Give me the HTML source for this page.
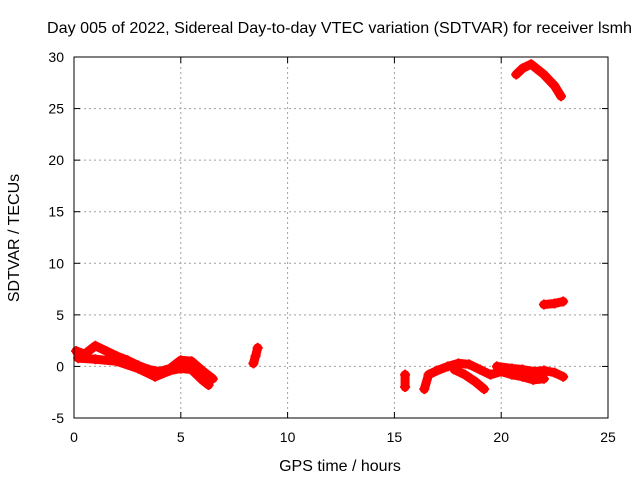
<!DOCTYPE html>
<html><head><meta charset="utf-8"><style>
body{margin:0;background:#fff;}
svg text{font-family:"Liberation Sans",sans-serif;font-size:14px;fill:#000;}
svg text.big{font-size:16px;}
</style></head><body>
<svg id="chart" width="640" height="480">
<rect width="640" height="480" fill="#fff"/>
<text class="big" x="47" y="33" textLength="585" lengthAdjust="spacingAndGlyphs">Day 005 of 2022, Sidereal Day-to-day VTEC variation (SDTVAR) for receiver lsmh</text>
<text class="big" x="340" y="471" text-anchor="middle">GPS time / hours</text>
<text class="big" transform="translate(19,238) rotate(-90)" text-anchor="middle">SDTVAR / TECUs</text>
<g id="grid"></g><g id="marks"></g><g id="axes"></g>
</svg>
<script>
const xTicks=[0,5,10,15,20,25];
const yTicks=[-5,0,5,10,15,20,25,30];
const seriesA=[[0.1,1.5],[0.5,1.2],[1,2.0],[1.5,1.5],[2,1.0],[2.5,0.6],[3,0.1],[3.5,-0.3],[4,-0.5],[4.5,-0.2],[5,0.6],[5.5,0.5],[6,-0.4],[6.5,-1.2]];
const seriesB=[[0.2,0.8],[1,0.7],[2,0.5],[3,-0.2],[3.8,-1.0],[4.5,-0.4],[5,-0.2],[5.5,-0.3],[6,-1.3],[6.3,-1.8]];
const seriesC=[[8.4,0.3],[8.5,1.0],[8.6,1.8]];
const seriesD=[[15.5,-2.0],[15.5,-0.8]];
const seriesE=[[16.4,-2.2],[16.6,-0.8],[17,-0.4],[17.5,0],[18,0.3],[18.5,0.2],[19,-0.3],[19.5,-0.8],[20,-0.5],[20.5,-0.8],[21,-1.0],[21.5,-1.3],[22,-1.2]];
const seriesF=[[17.8,-0.3],[18.3,-0.8],[18.8,-1.5],[19.2,-2.2]];
const seriesG=[[19.8,0],[20.5,-0.2],[21,-0.3],[21.5,-0.5],[22,-0.4],[22.5,-0.6],[22.9,-1.0]];
const seriesH=[[20.7,28.3],[21,28.9],[21.4,29.3],[22,28.3],[22.5,27.2],[22.8,26.2]];
const seriesI=[[22,6.0],[22.5,6.1],[22.9,6.3]];
const allSeries=[seriesA,seriesB,seriesC,seriesD,seriesE,seriesF,seriesG,seriesH,seriesI];
const L=74,R=608,T=57,B=418,xmin=0,xmax=25,ymin=-5,ymax=30;
const sx=v=>L+(v-xmin)/(xmax-xmin)*(R-L);
const sy=v=>B-(v-ymin)/(ymax-ymin)*(B-T);
const NS='http://www.w3.org/2000/svg';
function mk(tag,attrs,parent){const e=document.createElementNS(NS,tag);for(const k in attrs)e.setAttribute(k,attrs[k]);document.getElementById(parent).appendChild(e);return e;}
xTicks.forEach(t=>{
  if(t>xmin&&t<xmax){const g=mk('line',{x1:sx(t),x2:sx(t),y1:T,y2:B,stroke:'#a0a0a0','stroke-dasharray':'2,3'},'grid');
  
  }
  const tk=mk('text',{x:sx(t),y:B+24,'text-anchor':'middle'},'axes');tk.textContent=t;
  
  
  mk('line',{x1:sx(t),x2:sx(t),y1:B,y2:B-6,stroke:'#000'},'axes');
  mk('line',{x1:sx(t),x2:sx(t),y1:T,y2:T+6,stroke:'#000'},'axes');
});
yTicks.forEach(t=>{
  if(t>ymin&&t<ymax){const g=mk('line',{x1:L,x2:R,y1:sy(t),y2:sy(t),stroke:'#a0a0a0','stroke-dasharray':'2,3'},'grid');
  
  }
  const tk=mk('text',{x:L-10,y:sy(t)+5,'text-anchor':'end'},'axes');tk.textContent=t;
  
  
  mk('line',{x1:L,x2:L+6,y1:sy(t),y2:sy(t),stroke:'#000'},'axes');
  mk('line',{x1:R,x2:R-6,y1:sy(t),y2:sy(t),stroke:'#000'},'axes');
});
const fr=mk('rect',{x:L,y:T,width:R-L,height:B-T,fill:'none',stroke:'#000'},'axes');


allSeries.forEach((s,i)=>{
  const pts=s.map(p=>sx(p[0])+','+sy(p[1])).join(' ');
  const pl=mk('polyline',{points:pts,fill:'none',stroke:'#ff0000','stroke-width':9,'stroke-linejoin':'round','stroke-linecap':'round'},'marks');
  
  
  s.forEach(p=>{
    const m=mk('path',{d:`M${sx(p[0])-5},${sy(p[1])}h10M${sx(p[0])},${sy(p[1])-5}v10`,stroke:'#ff0000','stroke-width':2},'marks');
    
    
  });
});
</script>
</body></html>
